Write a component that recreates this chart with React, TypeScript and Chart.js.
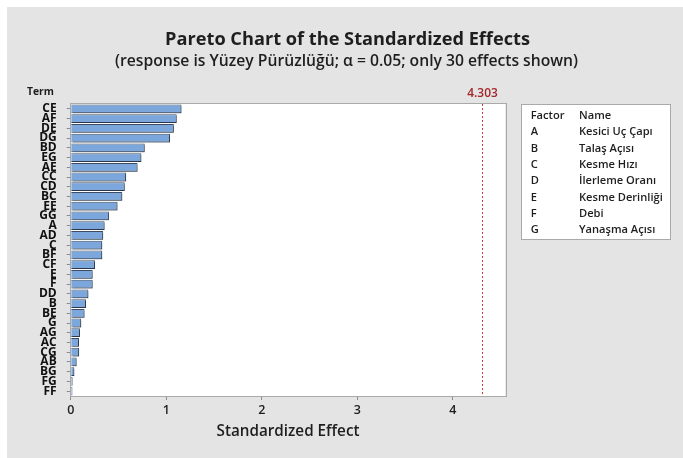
import React, { useEffect, useRef } from "react";
import { Chart, registerables } from "chart.js";

Chart.register(...registerables);

const terms = ["CE","AF","DE","DG","BD","EG","AE","CC","CD","BC","EE","GG","A","AD","C","BF","CF","E","F","DD","B","BE","G","AG","AC","CG","AB","BG","FG","FF"];
const effects = [1.16,1.11,1.08,1.04,0.775,0.74,0.70,0.58,0.566,0.54,0.49,0.40,0.355,0.34,0.33,0.33,0.255,0.23,0.23,0.185,0.16,0.145,0.11,0.097,0.087,0.088,0.062,0.038,0.02,0.018];
const criticalValue = 4.303;
const xTicks = [0, 1, 2, 3, 4];
const factors = ["A","B","C","D","E","F","G"];
const factorNames = ["Kesici Uç Çapı","Talaş Açısı","Kesme Hızı","İlerleme Oranı","Kesme Derinliği","Debi","Yanaşma Açısı"];
const titleText = "Pareto Chart of the Standardized Effects";
const subtitleText = "(response is Yüzey Pürüzlüğü; α = 0.05; only 30 effects shown)";
const xTitle = "Standardized Effect";
const yTitle = "Term";

const FAMILY = "'Open Sans', 'Noto Sans', sans-serif";
const TEXT = "#1e1e1e";
const BG = "#e4e4e4";

function fitFont(ctx: CanvasRenderingContext2D, text: string, weight: number, target: number) {
  ctx.font = `${weight} 100px ${FAMILY}`;
  const w = ctx.measureText(text).width;
  const size = (100 * target) / w;
  return `${weight} ${size.toFixed(2)}px ${FAMILY}`;
}

const W = 676;
const H = 451;

export default function App() {
  const ref = useRef<HTMLCanvasElement | null>(null);

  useEffect(() => {
    document.body.style.margin = "0";
    const canvas = ref.current!;
    const decor = {
      id: "decor",
      beforeDraw(chart: any) {
        const { ctx, chartArea: a } = chart;
        ctx.save();
        ctx.fillStyle = BG;
        ctx.fillRect(0, 0, W, H);
        ctx.fillStyle = "#ffffff";
        ctx.fillRect(a.left, a.top, a.right - a.left, a.bottom - a.top);
        ctx.restore();
      },
      beforeDatasetsDraw(chart: any) {
        const ctx = chart.ctx;
        ctx.save();
        ctx.shadowColor = "rgba(0,0,0,0.28)";
        ctx.shadowOffsetX = 1.5;
        ctx.shadowOffsetY = 1.5;
        ctx.shadowBlur = 0.5;
      },
      afterDatasetsDraw(chart: any) {
        chart.ctx.restore();
      },
      afterDraw(chart: any) {
        const { ctx, chartArea: a, scales } = chart;
        ctx.save();
        // plot border
        ctx.strokeStyle = "#a9a9a9";
        ctx.lineWidth = 1;
        ctx.strokeRect(Math.round(a.left) - 0.5, Math.round(a.top) - 0.5, Math.round(a.right - a.left) + 1, Math.round(a.bottom - a.top) + 1);
        // critical line
        const xc = Math.round(scales.x.getPixelForValue(criticalValue)) + 0.5;
        ctx.strokeStyle = "#d23a3a";
        ctx.setLineDash([2, 2]);
        ctx.beginPath();
        ctx.moveTo(xc, a.top);
        ctx.lineTo(xc, a.bottom);
        ctx.stroke();
        ctx.setLineDash([]);
        ctx.textAlign = "center";
        ctx.textBaseline = "middle";
        ctx.fillStyle = "#a3262a";
        ctx.font = fitFont(ctx, criticalValue.toFixed(3), 600, 30.5);
        ctx.fillText(criticalValue.toFixed(3), xc, 87);
        // titles
        ctx.fillStyle = TEXT;
        ctx.font = fitFont(ctx, titleText, 700, 365);
        ctx.fillText(titleText, 340.5, 33);
        ctx.font = fitFont(ctx, subtitleText, 600, 463);
        ctx.fillText(subtitleText, 339.5, 54.5);
        ctx.font = fitFont(ctx, xTitle, 600, 143);
        ctx.fillText(xTitle, (a.left + a.right) / 2, 424.5);
        ctx.textAlign = "left";
        ctx.font = fitFont(ctx, yTitle, 700, 27);
        ctx.fillText(yTitle, 20, 85);
        // legend box
        const bx = 514.5, by = 97.5, bw = 149, bh = 135;
        ctx.fillStyle = "#ffffff";
        ctx.fillRect(bx, by, bw, bh);
        ctx.strokeStyle = "#a9a9a9";
        ctx.strokeRect(bx, by, bw, bh);
        ctx.fillStyle = TEXT;
        const lf = fitFont(ctx, "Kesme Derinliği", 600, 83.7);
        ctx.font = lf;
        const rowY0 = 109;
        const step = 16.33;
        ctx.fillText("Factor", 523.7, rowY0);
        ctx.fillText("Name", 572, rowY0);
        factors.forEach((f, i) => {
          const y = rowY0 + step * (i + 1);
          ctx.fillText(f, 523.7, y);
          ctx.fillText(factorNames[i], 572, y);
        });
        ctx.restore();
      },
    };

    const chart = new Chart(canvas, {
      type: "bar",
      data: {
        labels: terms,
        datasets: [
          {
            data: effects,
            backgroundColor: "#7ca7dc",
            borderColor: "#3d4c63",
            borderWidth: 1,
            barPercentage: 0.9,
            categoryPercentage: 1,
          },
        ],
      },
      options: {
        indexAxis: "y",
        animation: false,
        responsive: false,
        devicePixelRatio: 1,
        layout: { padding: { top: 97, right: 177.7, left: 0, bottom: 0 } },
        plugins: { legend: { display: false }, tooltip: { enabled: false }, title: { display: false } },
        scales: {
          x: {
            type: "linear",
            min: 0,
            max: 4.55,
            afterFit: (s: any) => { s.height = 62; },
            afterBuildTicks: (s: any) => { s.ticks = xTicks.map((v) => ({ value: v })); },
            ticks: { font: { family: FAMILY, size: 12.5, weight: 600 }, color: TEXT, padding: 3 },
            grid: { drawOnChartArea: false, tickLength: 4, color: "#8c8c8c" },
            border: { display: false },
          },
          y: {
            afterFit: (s: any) => { s.width = 63.7; },
            ticks: { font: { family: FAMILY, size: 12, weight: "bold" }, color: "#111", padding: 10, autoSkip: false },
            grid: { drawOnChartArea: false, tickLength: 4, color: "#8c8c8c", offset: false },
            border: { display: false },
          },
        },
      },
      plugins: [decor],
    } as any);
    return () => chart.destroy();
  }, []);

  return (
    <div style={{ width: 683, height: 458, borderLeft: "7px solid #fff", borderTop: "7px solid #fff", boxSizing: "border-box", background: BG, overflow: "hidden" }}>
      <canvas ref={ref} width={W} height={H} style={{ display: "block", width: W, height: H }} />
    </div>
  );
}
